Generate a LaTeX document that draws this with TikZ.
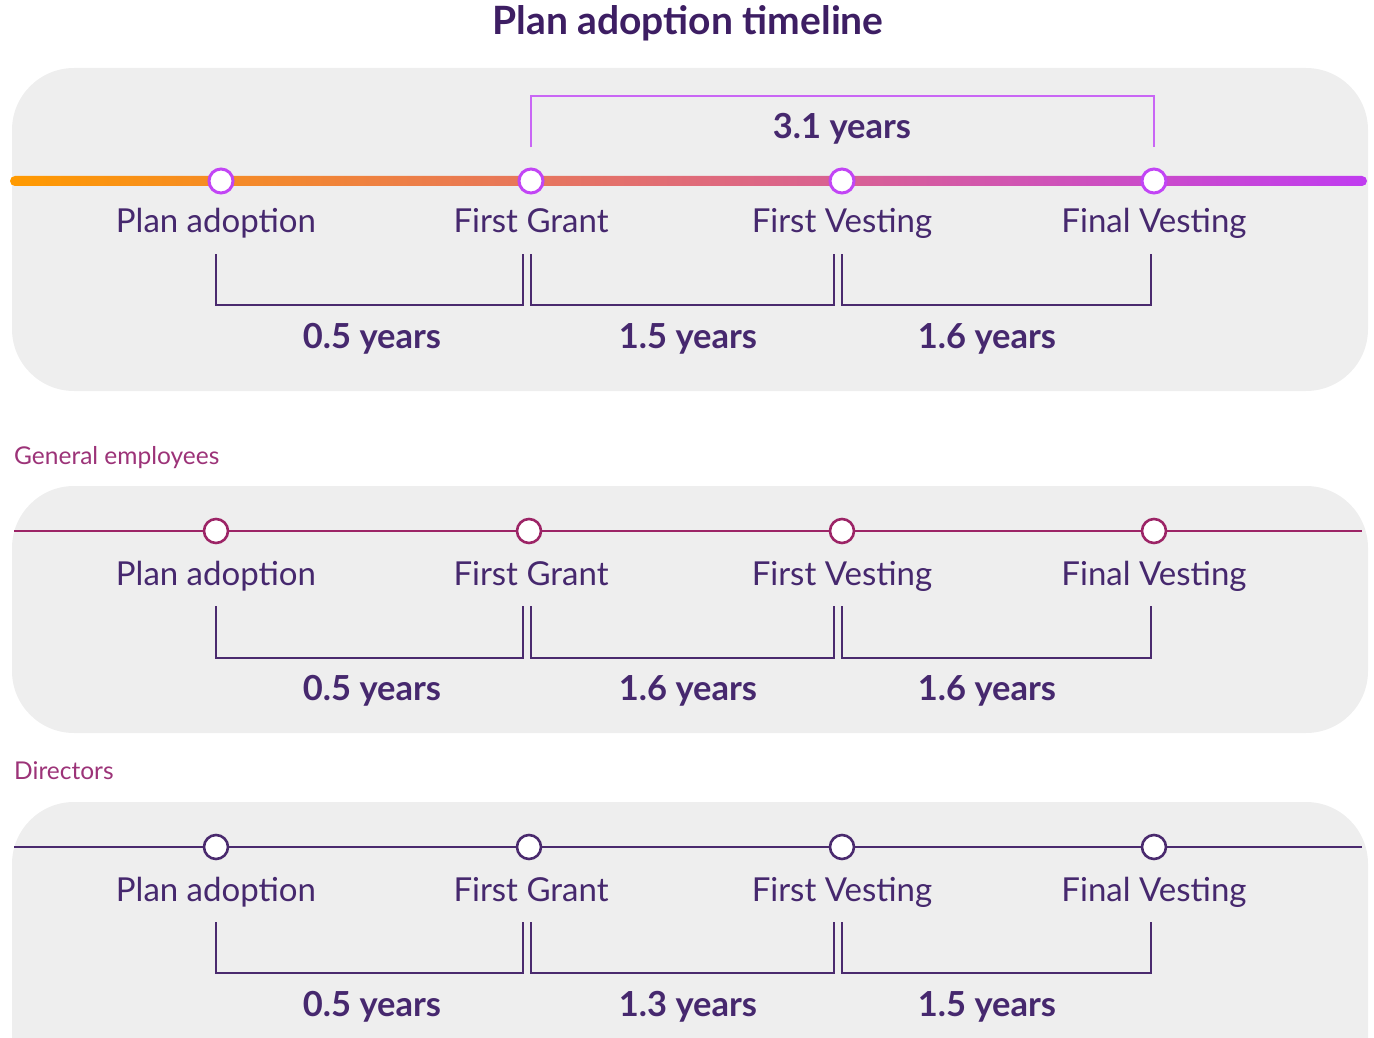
\documentclass[tikz,border=0pt]{standalone}
\usepackage{fontspec}
\setmainfont{Lato}
\usetikzlibrary{calc}
\definecolor{panelbg}{HTML}{EEEEEE}
\definecolor{titlecol}{HTML}{3D1E63}
\definecolor{txtcol}{HTML}{46286E}
\definecolor{nodecol}{HTML}{C245F5}
\definecolor{topbr}{HTML}{C966F5}
\definecolor{plum}{HTML}{9C2466}
\definecolor{catcol}{HTML}{9C3378}
\definecolor{dpurple}{HTML}{4A2A6E}
\definecolor{gstart}{HTML}{FF9A00}
\definecolor{gend}{HTML}{C03CF0}
\tikzset{
  panel/.style={fill=panelbg, draw=none, rounded corners=62pt},
  evlabel/.style={text=txtcol, font=\fontsize{33}{38}\selectfont, inner sep=0pt, anchor=base},
  yrlabel/.style={text=txtcol, font=\fontsize{34.5}{40}\selectfont\bfseries, inner sep=0pt, anchor=base},
  catlabel/.style={text=catcol, font=\fontsize{24.5}{28}\selectfont, inner sep=0pt, anchor=base west},
  dotA/.style={circle, fill=white, draw=nodecol, line width=3pt, minimum size=24pt, inner sep=0pt},
  dotB/.style={circle, fill=white, draw=plum, line width=2.6pt, minimum size=24pt, inner sep=0pt},
  dotC/.style={circle, fill=white, draw=dpurple, line width=2.6pt, minimum size=24pt, inner sep=0pt},
  brk/.style={draw=dpurple, line width=1.5pt},
}
\begin{document}
\begin{tikzpicture}[x=1pt,y=-1pt]
\useasboundingbox (0,0) rectangle (1374,1038);
\begin{scope}
\clip (0,0) rectangle (1374,1038);
% title
\node[text=titlecol, font=\fontsize{39}{45}\selectfont\bfseries, inner sep=0pt, anchor=base] (title) at (688,35) {Plan adoption timeline};

% ---------------- Panel 1
\fill[panel] (12,68) rectangle (1368,391);
\shade[left color=gstart, right color=gend, rounded corners=5pt] (10,176) rectangle (1367,186);
\node[dotA] (a1) at (221,181) {};
\node[dotA] (a2) at (531,181) {};
\node[dotA] (a3) at (842,181) {};
\node[dotA] (a4) at (1154,181) {};
\coordinate (t1) at (531,96);
\coordinate (t2) at (1154,96);
\draw[draw=topbr, line width=1.5pt] ($(a2.north)+(0,-20)$) -- (t1) -- (t2) -- ($(a4.north)+(0,-20)$);
\node[yrlabel] (y31) at (842,139) {3.1 years};
\node[evlabel] (la1) at (216,233) {Plan adoption};
\node[evlabel] (la2) at (531,233) {First Grant};
\node[evlabel] (la3) at (842,233) {First Vesting};
\node[evlabel] (la4) at (1154,233) {Final Vesting};
\draw[brk] (216,254) -- (216,305) -- (523,305) -- (523,254);
\draw[brk] (531,254) -- (531,305) -- (834,305) -- (834,254);
\draw[brk] (842,254) -- (842,305) -- (1151,305) -- (1151,254);
\node[yrlabel] (ya1) at (372,348) {0.5 years};
\node[yrlabel] (ya2) at (688,348) {1.5 years};
\node[yrlabel] (ya3) at (987,348) {1.6 years};

% ---------------- Panel 2
\node[catlabel] (cat2) at (14,464) {General employees};
\fill[panel] (12,486) rectangle (1368,733);
\coordinate (b0) at (14,531);
\coordinate (b5) at (1362,531);
\node[dotB] (b1) at (216,531) {};
\node[dotB] (b2) at (529,531) {};
\node[dotB] (b3) at (842,531) {};
\node[dotB] (b4) at (1154,531) {};
\draw[plum, line width=2.6pt] (b0) -- (b1) (b1) -- (b2) (b2) -- (b3) (b3) -- (b4) (b4) -- (b5);
\node[evlabel] (lb1) at (216,585) {Plan adoption};
\node[evlabel] (lb2) at (531,585) {First Grant};
\node[evlabel] (lb3) at (842,585) {First Vesting};
\node[evlabel] (lb4) at (1154,585) {Final Vesting};
\draw[brk] (216,606) -- (216,658) -- (523,658) -- (523,606);
\draw[brk] (531,606) -- (531,658) -- (834,658) -- (834,606);
\draw[brk] (842,606) -- (842,658) -- (1151,658) -- (1151,606);
\node[yrlabel] (yb1) at (372,700) {0.5 years};
\node[yrlabel] (yb2) at (688,700) {1.6 years};
\node[yrlabel] (yb3) at (987,700) {1.6 years};

% ---------------- Panel 3
\node[catlabel] (cat3) at (14,779) {Directors};
\fill[panel] (12,802) rectangle (1368,1110);
\coordinate (c0) at (14,847);
\coordinate (c5) at (1362,847);
\node[dotC] (c1) at (216,847) {};
\node[dotC] (c2) at (529,847) {};
\node[dotC] (c3) at (842,847) {};
\node[dotC] (c4) at (1154,847) {};
\draw[dpurple, line width=2.6pt] (c0) -- (c1) (c1) -- (c2) (c2) -- (c3) (c3) -- (c4) (c4) -- (c5);
\node[evlabel] (lc1) at (216,901) {Plan adoption};
\node[evlabel] (lc2) at (531,901) {First Grant};
\node[evlabel] (lc3) at (842,901) {First Vesting};
\node[evlabel] (lc4) at (1154,901) {Final Vesting};
\draw[brk] (216,922) -- (216,973) -- (523,973) -- (523,922);
\draw[brk] (531,922) -- (531,973) -- (834,973) -- (834,922);
\draw[brk] (842,922) -- (842,973) -- (1151,973) -- (1151,922);
\node[yrlabel] (yc1) at (372,1016) {0.5 years};
\node[yrlabel] (yc2) at (688,1016) {1.3 years};
\node[yrlabel] (yc3) at (987,1016) {1.5 years};
\end{scope}
\end{tikzpicture}
\end{document}
